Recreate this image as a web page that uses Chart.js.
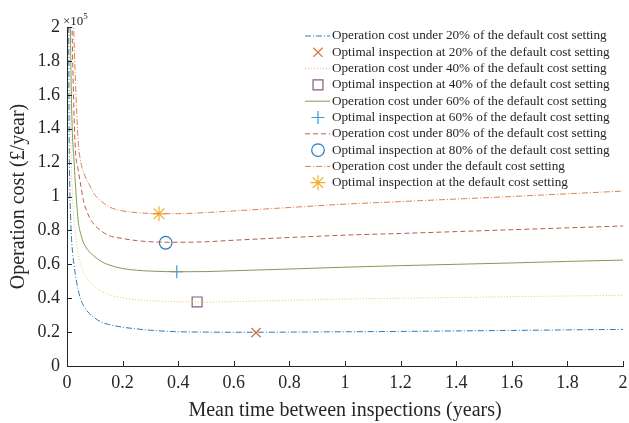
<!DOCTYPE html>
<html>
<head>
<meta charset="utf-8">
<script src="https://cdn.jsdelivr.net/npm/chart.js@4"></script>
<style>
  html, body { margin: 0; padding: 0; background: #fff; }
  #wrap { width: 629px; height: 423px; position: relative; }
</style>
</head>
<body>
<div id="wrap"><canvas id="costChart" width="629" height="423"></canvas></div>
<script>
// mean time between inspections (years)
const inspectionTimes = [0.006, 0.008, 0.01, 0.0125, 0.015, 0.02, 0.025, 0.03, 0.04, 0.05, 0.06, 0.08, 0.1,
    0.125, 0.15, 0.2, 0.25, 0.3, 0.4, 0.5, 0.6, 0.8, 1.0, 1.2, 1.4, 1.6, 1.8, 2.0];

// operation cost, in units of 10^5 £/year
const cost20 = [2.0, 1.3, 1.05, 0.9, 0.79, 0.67, 0.6, 0.54, 0.45, 0.39, 0.355, 0.31, 0.283,
    0.258, 0.245, 0.229, 0.219, 0.211, 0.202, 0.2, 0.199, 0.2, 0.202, 0.204, 0.207, 0.21, 0.213, 0.216];
const cost40 = [3.0, 2.4, 1.95, 1.5, 1.22, 1.0, 0.87, 0.78, 0.66, 0.6, 0.55, 0.505, 0.468,
    0.44, 0.422, 0.402, 0.391, 0.385, 0.379, 0.377, 0.38, 0.388, 0.395, 0.4, 0.404, 0.409, 0.413, 0.417];
const cost60 = [3.5, 2.9, 2.4, 1.95, 1.65, 1.35, 1.22, 1.08, 0.86, 0.775, 0.725, 0.675, 0.645,
    0.615, 0.597, 0.575, 0.565, 0.56, 0.556, 0.557, 0.562, 0.572, 0.583, 0.592, 0.6, 0.608, 0.617, 0.625];
const cost80 = [5.0, 4.0, 3.3, 2.7, 2.3, 1.85, 1.5, 1.28, 1.16, 1.06, 0.97, 0.88, 0.83,
    0.795, 0.77, 0.752, 0.74, 0.733, 0.73, 0.733, 0.742, 0.758, 0.772, 0.782, 0.793, 0.804, 0.815, 0.826];
const costDefault = [6.0, 4.5, 4.0, 3.3, 2.8, 2.3, 1.95, 1.7, 1.33, 1.2, 1.14, 1.07, 1.01,
    0.97, 0.94, 0.915, 0.905, 0.9, 0.899, 0.905, 0.915, 0.935, 0.955, 0.97, 0.985, 1.0, 1.016, 1.032];

// optimal inspection points (20%, 40%, 60%, 80%, default)
const optimalTimes = [0.68, 0.468, 0.395, 0.355, 0.331];
const optimalCosts = [0.197, 0.378, 0.556, 0.727, 0.898];

const lineLabels = [
    'Operation cost under 20% of the default cost setting',
    'Operation cost under 40% of the default cost setting',
    'Operation cost under 60% of the default cost setting',
    'Operation cost under 80% of the default cost setting',
    'Operation cost under the default cost setting'
];
const markerLabels = [
    'Optimal inspection at 20% of the default cost setting',
    'Optimal inspection at 40% of the default cost setting',
    'Optimal inspection at 60% of the default cost setting',
    'Optimal inspection at 80% of the default cost setting',
    'Optimal inspection at the default cost setting'
];

const xTicks = [0, 0.2, 0.4, 0.6, 0.8, 1, 1.2, 1.4, 1.6, 1.8, 2];
const yTicks = [0, 0.2, 0.4, 0.6, 0.8, 1, 1.2, 1.4, 1.6, 1.8, 2];

const costSeries = [cost20, cost40, cost60, cost80, costDefault];
const lineColors = ['#2a7ab8', '#f0c060', '#7d9c55', '#b85a4c', '#e0804a'];
const lineDashes = [[6, 2, 1, 2], [1, 2], [], [5, 3], [6, 2, 1, 2]];
const markerStyles = ['crossRot', 'rect', 'cross', 'circle', 'star'];
const markerColors = ['#d9703a', '#8a5a80', '#3a9ad9', '#2a7ab8', '#f0b030'];
const markerSizes = [6.5, 7, 6.5, 6.3, 7.5];

const textColor = '#262626';
const serif = '"Liberation Serif", "Times New Roman", serif';

const datasets = [];
costSeries.forEach((series, i) => {
    datasets.push({
        label: lineLabels[i],
        data: inspectionTimes.map((t, j) => ({ x: t, y: series[j] })),
        showLine: true,
        borderColor: lineColors[i],
        borderWidth: 1,
        borderDash: lineDashes[i],
        pointRadius: 0,
        cubicInterpolationMode: 'monotone',
        fill: false
    });
    datasets.push({
        label: markerLabels[i],
        data: [{ x: optimalTimes[i], y: optimalCosts[i] }],
        showLine: false,
        pointStyle: markerStyles[i],
        pointRadius: markerSizes[i],
        borderColor: markerColors[i],
        backgroundColor: 'rgba(0,0,0,0)',
        pointBorderWidth: 1.2
    });
});

// inward tick marks + the x10^5 exponent label
const axisDecor = {
    id: 'axisDecor',
    afterDraw(chart) {
        const ctx = chart.ctx;
        const area = chart.chartArea;
        const xs = chart.scales.x, ys = chart.scales.y;
        ctx.save();
        ctx.strokeStyle = textColor;
        ctx.lineWidth = 1;
        ctx.beginPath();
        xTicks.forEach(v => {
            const px = Math.round(xs.getPixelForValue(v)) + 0.5;
            ctx.moveTo(px, area.bottom);
            ctx.lineTo(px, area.bottom - 5);
        });
        yTicks.forEach(v => {
            const py = Math.round(ys.getPixelForValue(v)) + 0.5;
            ctx.moveTo(area.left, py);
            ctx.lineTo(area.left + 5, py);
        });
        ctx.stroke();

        ctx.fillStyle = textColor;
        ctx.textBaseline = 'alphabetic';
        ctx.font = '13px ' + serif;
        ctx.fillText('\u00d710', area.left - 4, area.top - 2);
        const w = ctx.measureText('\u00d710').width;
        ctx.font = '9px ' + serif;
        ctx.fillText('5', area.left - 4 + w, area.top - 8);
        ctx.restore();
    }
};

// legend drawn inside the axes, one entry per row
const insideLegend = {
    id: 'insideLegend',
    afterDraw(chart) {
        const ctx = chart.ctx;
        const x0 = 305, sampleW = 25, textX = 332, y0 = 36, rowH = 16.3;
        ctx.save();
        ctx.font = '13.2px ' + serif;
        ctx.textBaseline = 'middle';
        chart.data.datasets.forEach((ds, i) => {
            const y = y0 + i * rowH;
            if (ds.showLine) {
                ctx.strokeStyle = ds.borderColor;
                ctx.lineWidth = 1;
                ctx.setLineDash(ds.borderDash);
                ctx.beginPath();
                ctx.moveTo(x0, y);
                ctx.lineTo(x0 + sampleW, y);
                ctx.stroke();
                ctx.setLineDash([]);
            } else {
                ctx.strokeStyle = ds.borderColor;
                ctx.fillStyle = 'rgba(0,0,0,0)';
                ctx.lineWidth = 1.2;
                Chart.helpers.drawPoint(ctx, { pointStyle: ds.pointStyle, radius: ds.pointRadius, borderWidth: 1.2, rotation: 0 }, x0 + 13, y);
            }
            ctx.fillStyle = textColor;
            ctx.fillText(ds.label, textX, y);
        });
        ctx.restore();
    }
};

new Chart(document.getElementById('costChart').getContext('2d'), {
    type: 'scatter',
    data: { datasets: datasets },
    options: {
        responsive: false,
        animation: false,
        layout: { autoPadding: false, padding: { top: 27, right: 6, left: 0, bottom: 0 } },
        plugins: { legend: { display: false }, tooltip: { enabled: false } },
        scales: {
            x: {
                type: 'linear',
                min: 0,
                max: 2,
                afterBuildTicks: s => { s.ticks = xTicks.map(v => ({ value: v })); },
                afterFit: s => { s.height = 57; s.paddingRight = 0; s.paddingLeft = 0; },
                grid: { display: true, drawOnChartArea: false, drawTicks: false },
                border: { display: true, color: textColor, width: 1 },
                ticks: { color: textColor, font: { family: serif, size: 18 }, padding: 6, maxRotation: 0,
                    callback: v => String(Math.round(v * 10) / 10) },
                title: { display: true, text: 'Mean time between inspections (years)', color: textColor,
                    font: { family: serif, size: 20 }, padding: { top: 2, bottom: 0 } }
            },
            y: {
                type: 'linear',
                min: 0,
                max: 2,
                afterBuildTicks: s => { s.ticks = yTicks.map(v => ({ value: v })); },
                afterFit: s => { s.width = 67; },
                grid: { display: true, drawOnChartArea: false, drawTicks: false },
                border: { display: true, color: textColor, width: 1 },
                ticks: { color: textColor, font: { family: serif, size: 18 }, padding: 7,
                    callback: v => String(Math.round(v * 10) / 10) },
                title: { display: true, text: 'Operation cost (\u00a3/year)', color: textColor,
                    font: { family: serif, size: 20 }, padding: { top: 7, bottom: 0 } }
            }
        }
    },
    plugins: [axisDecor, insideLegend]
});
</script>
</body>
</html>
